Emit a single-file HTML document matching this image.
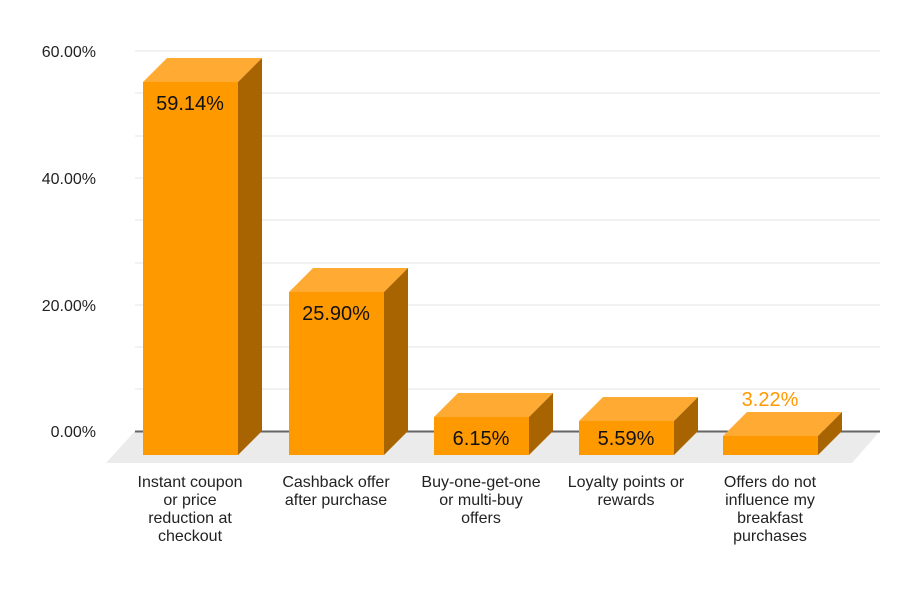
<!DOCTYPE html><html><head><style>body{margin:0;background:#fff}svg{display:block}text{font-family:"Liberation Sans",sans-serif}</style></head><body>
<svg width="900" height="600" viewBox="0 0 900 600">
<polygon points="135,431 880,431 852,463 106,463" fill="#ebebeb"/>
<g stroke="#e6e6e6" stroke-width="1">
<line x1="135" x2="880" y1="51" y2="51"/><line x1="135" x2="880" y1="93" y2="93"/><line x1="135" x2="880" y1="136" y2="136"/>
<line x1="135" x2="880" y1="178" y2="178"/><line x1="135" x2="880" y1="220" y2="220"/><line x1="135" x2="880" y1="263" y2="263"/>
<line x1="135" x2="880" y1="305" y2="305"/><line x1="135" x2="880" y1="347" y2="347"/><line x1="135" x2="880" y1="389" y2="389"/>
</g>
<line x1="135" x2="880" y1="431.5" y2="431.5" stroke="#666" stroke-width="2"/>
<g font-size="16" fill="#222" text-anchor="end">
<text x="96" y="57">60.00%</text><text x="96" y="184">40.00%</text><text x="96" y="311">20.00%</text><text x="96" y="437">0.00%</text>
</g>
<g id="bars">
<polygon points="143,82 167,58 262,58 238,82" fill="#ffab33"/><polygon points="238,82 262,58 262,431 238,455" fill="#a86400"/><rect x="143" y="82" width="95" height="373" fill="#ff9900"/>
<polygon points="289,292 313,268 408,268 384,292" fill="#ffab33"/><polygon points="384,292 408,268 408,431 384,455" fill="#a86400"/><rect x="289" y="292" width="95" height="163" fill="#ff9900"/>
<polygon points="434,417 458,393 553,393 529,417" fill="#ffab33"/><polygon points="529,417 553,393 553,431 529,455" fill="#a86400"/><rect x="434" y="417" width="95" height="38" fill="#ff9900"/>
<polygon points="579,421 603,397 698,397 674,421" fill="#ffab33"/><polygon points="674,421 698,397 698,431 674,455" fill="#a86400"/><rect x="579" y="421" width="95" height="34" fill="#ff9900"/>
<polygon points="723,436 747,412 842,412 818,436" fill="#ffab33"/><polygon points="818,436 842,412 842,431 818,455" fill="#a86400"/><rect x="723" y="436" width="95" height="19" fill="#ff9900"/>
</g>
<g font-size="20" fill="#111" text-anchor="middle">
<text x="190" y="110">59.14%</text><text x="336" y="320">25.90%</text><text x="481" y="445">6.15%</text><text x="626" y="445">5.59%</text>
<text x="770" y="406" fill="#ff9900">3.22%</text>
</g>
<g font-size="16" fill="#222" text-anchor="middle">
<text x="190" y="487">Instant coupon</text><text x="190" y="505">or price</text><text x="190" y="523">reduction at</text><text x="190" y="541">checkout</text>
<text x="336" y="487">Cashback offer</text><text x="336" y="505">after purchase</text>
<text x="481" y="487">Buy-one-get-one</text><text x="481" y="505">or multi-buy</text><text x="481" y="523">offers</text>
<text x="626" y="487">Loyalty points or</text><text x="626" y="505">rewards</text>
<text x="770" y="487">Offers do not</text><text x="770" y="505">influence my</text><text x="770" y="523">breakfast</text><text x="770" y="541">purchases</text>
</g>
</svg></body></html>
